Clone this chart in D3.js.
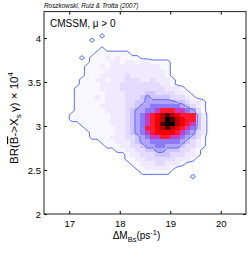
<!DOCTYPE html>
<html>
<head>
<meta charset="utf-8">
<script src="https://cdn.jsdelivr.net/npm/d3@7"></script>
<style>
  html, body { margin: 0; padding: 0; background: #fff; }
  svg { display: block; font-family: "Liberation Sans", Arial, sans-serif; }
</style>
</head>
<body>
<div id="chart"></div>
<script>
// binned posterior
// columns are 0.1 ps^-1 wide starting at 16.9, rows are 0.05 tall going down from 4.05
const xStart = 16.9, xStep = 0.1, nCols = 30;
const yStart = 4.05, yStep = 0.05;
// each row: [first column, levels] ; levels 0-9, a=10, b=11, c=12 ; rest of row empty
const densityRows = [
  [7, '1'],
  [5, '1'],
  [0, ''],
  [7, '1'],
  [6, '1111111'],
  [3, '101112121111'],
  [5, '1111221221221111'],
  [4, '11121222222222211'],
  [4, '11112222222222221'],
  [4, '11122222322222221'],
  [3, '1112212223332232221'],
  [3, '1111222233333333221'],
  [2, '1111122223333333332221'],
  [2, '11111122223333443333221'],
  [2, '111121222233345444433321'],
  [2, '11111122223344555555443221'],
  [2, '11111222223345566666654321'],
  [2, '11111122223455667888776531'],
  [1, '111111112223456789aba988842'],
  [1, '111111112223456789acba98842'],
  [3, '1111112223456789bcca98742'],
  [4, '111111223456889aba987642'],
  [5, '11111223456789999876532'],
  [5, '11112223345677887765431'],
  [7, '111222345566666654321'],
  [8, '11122334556655543321'],
  [10, '11223344554443321'],
  [12, '122333444333221'],
  [12, '11223333332221'],
  [13, '11222332221'],
  [14, '11222221'],
  [15, '111111'],
  [25, '1'],
  [0, '']
];
const levelColors = ['#ffffff', '#f8f6ff', '#efeaff', '#e2daff', '#cfc4ff', '#b2a4ff',
  '#8c7bf8', '#c53cc0', '#ff1a30', '#f20000', '#b80000', '#580000', '#000000'];
const contourLevels = [0.5, 4.5];

const xDomain = [16.5, 20.5];
const yDomain = [2, 4.3];
const xTicks = [17, 18, 19, 20];
const yTicks = [2, 2.5, 3, 3.5, 4];

const width = 249, height = 253;
const plot = {left: 44, right: 246, top: 11.6, bottom: 214};

const nRows = densityRows.length;
const values = [];
densityRows.forEach(([start, s]) => {
  const row = new Array(nCols).fill(0);
  s.split('').forEach((c, k) => { row[start + k] = parseInt(c, 16); });
  values.push(...row);
});

const x = d3.scaleLinear().domain(xDomain).range([plot.left, plot.right]);
const y = d3.scaleLinear().domain(yDomain).range([plot.bottom, plot.top]);
const color = d3.scaleOrdinal().domain(d3.range(levelColors.length)).range(levelColors);

const svg = d3.select('#chart').append('svg')
  .attr('width', width)
  .attr('height', height);

// heat map cells
const cells = [];
values.forEach((v, k) => {
  if (v > 0) cells.push({i: k % nCols, j: Math.floor(k / nCols), v});
});
svg.append('g')
  .attr('shape-rendering', 'crispEdges')
  .selectAll('rect')
  .data(cells)
  .enter().append('rect')
    .attr('x', d => x(xStart + d.i * xStep))
    .attr('y', d => y(yStart - d.j * yStep))
    .attr('width', x(xStart + xStep) - x(xStart) + 0.3)
    .attr('height', y(yStart - yStep) - y(yStart) + 0.3)
    .attr('fill', d => color(d.v));

// contours
const contours = d3.contours().size([nCols, nRows]).thresholds(contourLevels)(values);
const toPlot = d3.geoTransform({
  point(px, py) { this.stream.point(x(xStart + px * xStep), y(yStart - py * yStep)); }
});
svg.append('g')
  .selectAll('path')
  .data(contours)
  .enter().append('path')
    .attr('d', d3.geoPath(toPlot))
    .attr('fill', 'none')
    .attr('stroke', '#5b6ef0')
    .attr('stroke-width', 1);

// axes, ticks pointing inwards on all sides
const styleAxis = g => {
  g.select('.domain').remove();
  g.attr('font-family', '"Liberation Sans", Arial, sans-serif').attr('font-size', 9.5);
  g.selectAll('line').attr('stroke', '#000');
};
svg.append('g')
  .attr('transform', `translate(0,${plot.bottom})`)
  .call(d3.axisBottom(x).tickValues(xTicks).tickSizeInner(-3).tickSizeOuter(0).tickPadding(6).tickFormat(d3.format('d')))
  .call(styleAxis);
svg.append('g')
  .attr('transform', `translate(0,${plot.top})`)
  .call(d3.axisTop(x).tickValues(xTicks).tickSizeInner(-3).tickSizeOuter(0).tickFormat(''))
  .call(styleAxis);
svg.append('g')
  .attr('transform', `translate(${plot.left},0)`)
  .call(d3.axisLeft(y).tickValues(yTicks).tickSizeInner(-3).tickSizeOuter(0).tickPadding(3).tickFormat(d3.format('~g')))
  .call(styleAxis);
svg.append('g')
  .attr('transform', `translate(${plot.right},0)`)
  .call(d3.axisRight(y).tickValues(yTicks).tickSizeInner(-3).tickSizeOuter(0).tickFormat(''))
  .call(styleAxis);

svg.append('rect')
  .attr('x', plot.left)
  .attr('y', plot.top)
  .attr('width', plot.right - plot.left)
  .attr('height', plot.bottom - plot.top)
  .attr('fill', 'none')
  .attr('stroke', '#222')
  .attr('stroke-width', 1);

// texts
svg.append('text')
  .attr('x', plot.left)
  .attr('y', 8)
  .attr('font-size', 6.4)
  .attr('font-style', 'italic')
  .text('Roszkowski, Ruiz & Trotta (2007)');

svg.append('text')
  .attr('x', 50)
  .attr('y', 27)
  .attr('font-size', 10)
  .text('CMSSM, μ > 0');

const xLabel = svg.append('text')
  .attr('x', 136.5)
  .attr('y', 238.5)
  .attr('text-anchor', 'middle')
  .attr('font-size', 10);
xLabel.append('tspan').text('ΔM');
xLabel.append('tspan').attr('dy', 3).attr('font-size', 7.5).text('Bs');
xLabel.append('tspan').attr('dy', -3).text('(ps');
xLabel.append('tspan').attr('dy', -4).attr('font-size', 7.5).text('-1');
xLabel.append('tspan').attr('dy', 4).text(')');

const yLabel = svg.append('text')
  .attr('transform', `translate(18,118) rotate(-90)`)
  .attr('text-anchor', 'middle')
  .attr('font-size', 11.5);
yLabel.append('tspan').text('BR(');
yLabel.append('tspan').attr('text-decoration', 'overline').text('B');
yLabel.append('tspan').text('->X');
yLabel.append('tspan').attr('dy', 3).attr('font-size', 8).text('s');
yLabel.append('tspan').attr('dy', -3).text('\u2009γ) × 10');
yLabel.append('tspan').attr('dy', -5).attr('font-size', 8).text('4');
</script>
</body>
</html>
